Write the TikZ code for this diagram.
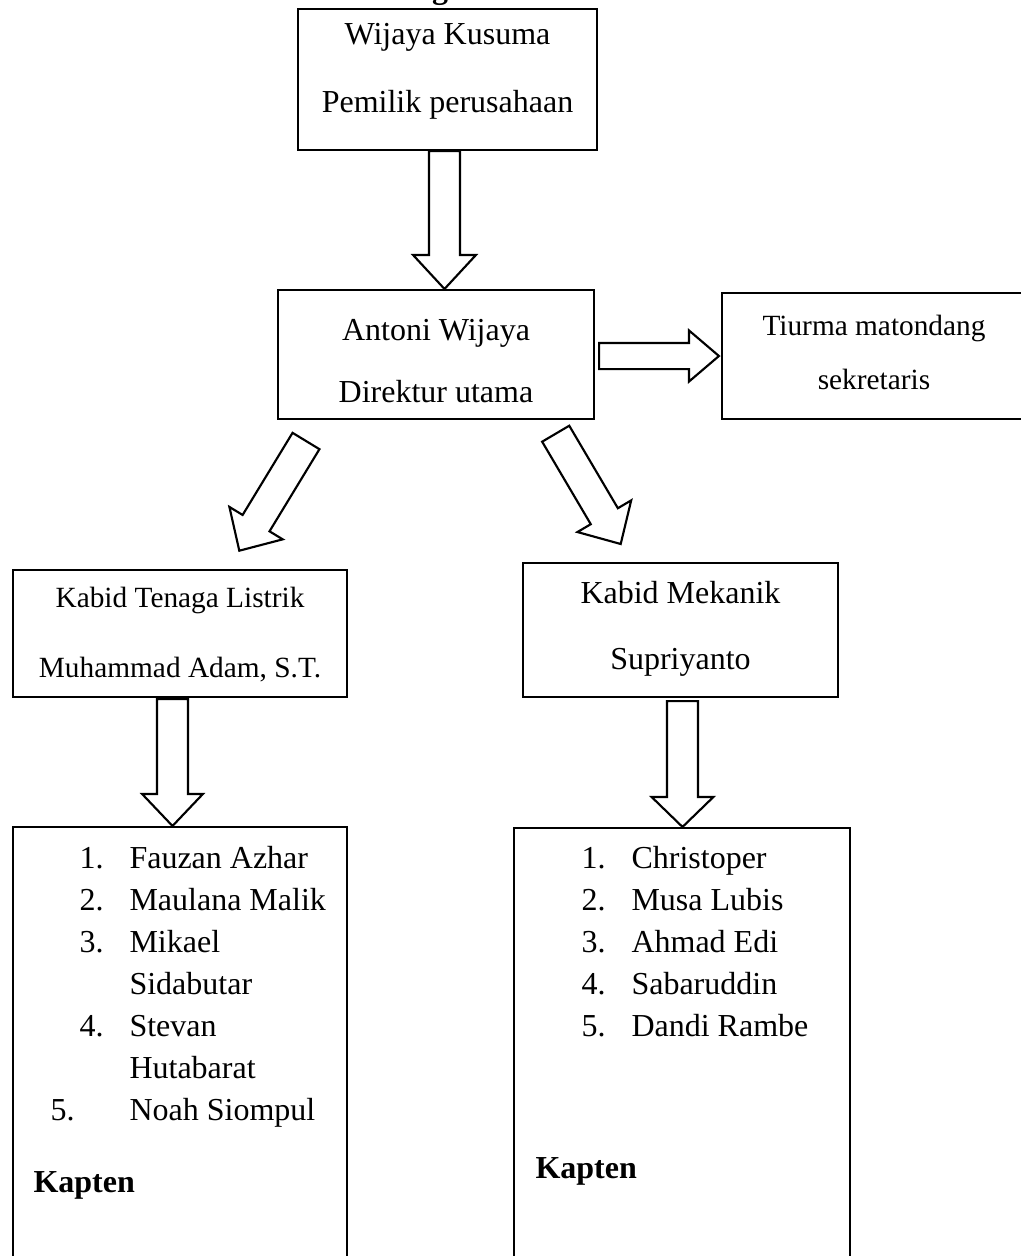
\documentclass[tikz,border=0pt]{standalone}
\usepackage{fontspec}
\setmainfont{Liberation Serif}
\usetikzlibrary{calc,positioning}

% panah blok berongga: ekor, ujung, setengah lebar batang, setengah lebar kepala, panjang kepala
\newcommand{\hollowarrow}[5]{%
  \coordinate (hb) at ($(#2)!#5!(#1)$);
  \draw[blockarrow] ($(#1)!#3!90:(#2)$) -- ($(hb)!#3!90:(#2)$) -- ($(hb)!#4!90:(#2)$)
    -- (#2) -- ($(hb)!#4!-90:(#2)$) -- ($(hb)!#3!-90:(#2)$) -- ($(#1)!#3!-90:(#2)$) -- cycle;
}

\begin{document}
\begin{tikzpicture}[
    x=0.375pt, y=-0.375pt,
    % gaya
    orgbox/.style={
        draw, line width=0.8pt, inner sep=0pt, align=flush center
    },
    listbox/.style={
        draw, line width=0.8pt, inner sep=0pt
    },
    listtext/.style={
        inner sep=0pt, align=flush left, anchor=base west,
        font=\fontsize{12}{15.75}\selectfont
    },
    blockarrow/.style={draw, line width=0.8pt, fill=white, line join=miter}
]
\useasboundingbox (0,0) rectangle (1021,1256);

% Judul (terpotong)
\node[anchor=base, inner sep=0pt, font=\bfseries\fontsize{12}{14}\selectfont] (judul) at (440,-1.5) {g};

% Pemilik
\node[orgbox, minimum width=112.1pt, text width=112.1pt, text height=13.5pt, text depth=39.4pt,
      font=\fontsize{12}{25.5}\selectfont] (pemilik) at (447.5,79.5)
    {Wijaya Kusuma\\Pemilik perusahaan};

% Direktur
\node[orgbox, minimum width=118.5pt, text width=118.5pt, text height=18.75pt, text depth=29.6pt,
      font=\fontsize{12}{23.25}\selectfont] (direktur) at (436,354.5)
    {Antoni Wijaya\\Direktur utama};

% Sekretaris
\node[orgbox, minimum width=114pt, text width=114pt, text height=15.75pt, text depth=31.5pt,
      font=\fontsize{11}{20.6}\selectfont] (sekretaris) at (874,356)
    {Tiurma matondang\\sekretaris};

% Kabid
\node[orgbox, minimum width=125.25pt, text width=125.25pt, text height=13.9pt, text depth=33.75pt,
      font=\fontsize{11}{26.6}\selectfont] (listrik) at (180,633.5)
    {Kabid Tenaga Listrik\\Muhammad Adam, S.T.};
\node[orgbox, minimum width=118.1pt, text width=118.1pt, text height=15pt, text depth=35.25pt,
      font=\fontsize{12}{25.1}\selectfont] (mekanik) at (680.5,630)
    {Kabid Mekanik\\Supriyanto};

% Anggota
\node[listbox, minimum width=125.25pt, minimum height=166.1pt] (listL) at (180,1048.5) {};
\node[listbox, minimum width=126pt, minimum height=165.75pt] (listR) at (682,1049) {};

\node[listtext, text width=117.75pt] (anggotaL) at (33,868) {
    \makebox[26.25pt][r]{1.}\hspace{9.75pt}Fauzan Azhar\\
    \makebox[26.25pt][r]{2.}\hspace{9.75pt}Maulana Malik\\
    \makebox[26.25pt][r]{3.}\hspace{9.75pt}Mikael\\
    \hspace*{36pt}Sidabutar\\
    \makebox[26.25pt][r]{4.}\hspace{9.75pt}Stevan\\
    \hspace*{36pt}Hutabarat\\
    \makebox[26.25pt][l]{\hspace{6.4pt}5.}\hspace{9.75pt}Noah Siompul\\[11.6pt]
    \textbf{Kapten}
};
\node[listtext, text width=118pt] (anggotaR) at (535,868) {
    \makebox[26.25pt][r]{1.}\hspace{9.75pt}Christoper\\
    \makebox[26.25pt][r]{2.}\hspace{9.75pt}Musa Lubis\\
    \makebox[26.25pt][r]{3.}\hspace{9.75pt}Ahmad Edi\\
    \makebox[26.25pt][r]{4.}\hspace{9.75pt}Sabaruddin\\
    \makebox[26.25pt][r]{5.}\hspace{9.75pt}Dandi Rambe\\[37.5pt]
    \textbf{Kapten}
};

% Panah
\coordinate (p0) at ($(pemilik.south)+(-3,0)$);
\coordinate (p1) at (direktur.north -| p0);
\hollowarrow{p0}{p1}{5.8pt}{11.8pt}{12.75pt}

\coordinate (s0) at ($(direktur.east)+(4,1.5)$);
\coordinate (s1) at ($(sekretaris.west |- s0)+(-2,0)$);
\hollowarrow{s0}{s1}{4.9pt}{9.6pt}{11.25pt}

\coordinate (k0) at (306,441);
\coordinate (k1) at (239.3,550.7);
\hollowarrow{k0}{k1}{5.9pt}{11.7pt}{12.1pt}

\coordinate (m0) at (555.7,433.7);
\coordinate (m1) at (620.7,544);
\hollowarrow{m0}{m1}{5.9pt}{11.7pt}{12.1pt}

\coordinate (t0) at ($(listrik.south)+(-7.5,1)$);
\coordinate (t1) at (listL.north -| t0);
\hollowarrow{t0}{t1}{5.8pt}{11.4pt}{12pt}

\coordinate (u0) at ($(mekanik.south)+(2,3)$);
\coordinate (u1) at (listR.north -| u0);
\hollowarrow{u0}{u1}{5.8pt}{11.6pt}{11.25pt}

\end{tikzpicture}
\end{document}
